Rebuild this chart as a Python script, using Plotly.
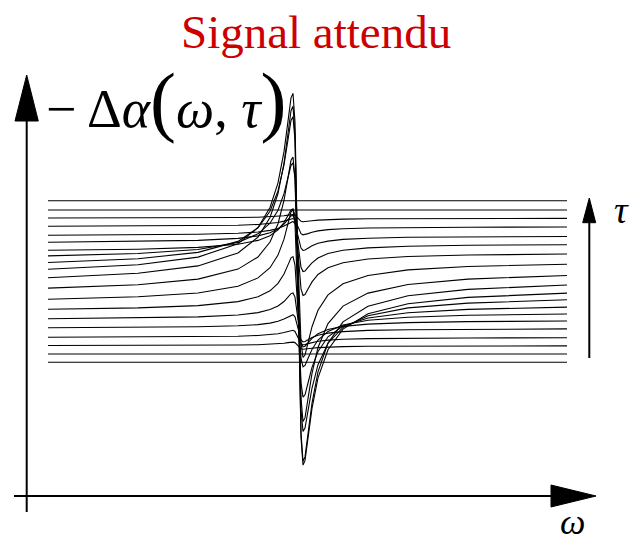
import plotly.graph_objects as go

# omega offset from the resonance (arbitrary units) shared by every trace
omega = [-250, -160, -100, -60, -40, -28, -20, -14, -10, -7, -5, -3, 0,
         3, 5, 7, 10, 14, 20, 30, 45, 70, 110, 170, 269]

# -Delta alpha (offset per delay tau), from top (largest tau) to bottom
curve_01 = [294.3] * 25
curve_02 = [285.0] * 25
curve_03 = [277.0, 277.0, 277.2, 277.5, 277.8, 278.2, 278.7, 279.3, 279.9, 280.3, 280.4, 279.9, 276.8,
            273.7, 273.2, 273.3, 273.7, 274.3, 274.9, 275.5, 275.9, 276.2, 276.4, 276.6, 276.6]
curve_04 = [268.7, 268.9, 269.2, 269.8, 270.5, 271.4, 272.5, 273.9, 275.2, 276.3, 276.5, 275.2, 268.3,
            261.4, 260.2, 260.4, 261.4, 262.7, 264.1, 265.4, 266.3, 267.0, 267.5, 267.8, 268.0]
curve_05 = [259.7, 260.1, 260.7, 261.7, 263.0, 264.6, 266.5, 269.0, 271.4, 273.2, 273.6, 271.3, 259.1,
            246.9, 244.6, 245.0, 246.8, 249.2, 251.7, 253.9, 255.6, 256.8, 257.7, 258.2, 258.5]
curve_06 = [252.7, 253.4, 254.6, 256.6, 259.1, 262.2, 266.0, 270.8, 275.4, 279.0, 279.6, 275.3, 251.5,
            227.7, 223.4, 224.0, 227.6, 232.2, 237.0, 241.5, 244.7, 247.1, 248.7, 249.7, 250.3]
curve_07 = [244.7, 245.8, 247.6, 250.7, 254.6, 259.3, 265.1, 272.5, 279.6, 285.1, 286.1, 279.4, 242.8,
            206.2, 199.5, 200.5, 206.0, 213.1, 220.5, 227.3, 232.3, 236.0, 238.5, 240.0, 241.0]
curve_08 = [239.1, 241.5, 245.5, 252.6, 261.2, 271.8, 284.8, 301.3, 317.5, 329.7, 332.1, 316.9, 234.8,
            152.7, 137.5, 139.9, 152.1, 168.3, 184.8, 200.1, 211.3, 219.5, 225.1, 228.5, 230.8]
curve_09 = [232.5, 236.3, 242.6, 253.6, 267.1, 283.7, 304.1, 330.0, 355.3, 374.5, 378.2, 354.5, 225.8,
            97.1, 73.4, 77.1, 96.3, 121.6, 147.5, 171.4, 188.9, 201.9, 210.5, 215.9, 219.5]
curve_10 = [225.7, 230.3, 237.9, 251.2, 267.5, 287.5, 312.1, 343.4, 373.9, 397.1, 401.6, 372.9, 217.6,
            62.3, 33.6, 38.1, 61.3, 91.8, 123.1, 151.9, 173.1, 188.7, 199.2, 205.6, 210.0]
curve_11 = [217.2, 221.7, 229.1, 242.1, 257.9, 277.5, 301.5, 332.0, 361.7, 384.3, 388.7, 360.7, 209.3,
            57.9, 29.9, 34.3, 56.9, 86.6, 117.1, 145.3, 165.9, 181.2, 191.3, 197.6, 201.9]
curve_12 = [206.9, 210.3, 215.9, 225.9, 238.0, 253.0, 271.3, 294.6, 317.4, 334.7, 338.0, 316.6, 200.8,
            85.0, 63.6, 66.9, 84.2, 107.0, 130.3, 151.8, 167.6, 179.3, 187.1, 191.9, 195.2]
curve_13 = [195.8, 198.2, 202.0, 208.8, 217.1, 227.3, 239.9, 255.8, 271.4, 283.2, 285.5, 270.9, 191.7,
            112.5, 97.9, 100.2, 112.0, 127.6, 143.5, 158.2, 169.0, 177.0, 182.3, 185.6, 187.9]
curve_14 = [185.7, 187.1, 189.4, 193.4, 198.2, 204.2, 211.6, 221.0, 230.1, 237.1, 238.4, 229.8, 183.3,
            136.8, 128.2, 129.5, 136.5, 145.6, 155.0, 163.6, 170.0, 174.7, 177.8, 179.7, 181.0]
curve_15 = [176.3, 177.0, 178.1, 180.0, 182.4, 185.4, 189.0, 193.5, 198.0, 201.4, 202.1, 197.9, 175.1,
            152.3, 148.1, 148.8, 152.2, 156.7, 161.2, 165.5, 168.6, 170.9, 172.4, 173.4, 174.0]
curve_16 = [167.3, 167.6, 168.2, 169.2, 170.4, 171.9, 173.7, 176.0, 178.2, 179.9, 180.3, 178.2, 166.7,
            155.2, 153.1, 153.5, 155.2, 157.4, 159.7, 161.9, 163.4, 164.6, 165.3, 165.8, 166.1]
curve_17 = [157.8, 158.0, 158.3, 158.8, 159.5, 160.3, 161.2, 162.5, 163.7, 164.6, 164.7, 163.6, 157.5,
            151.4, 150.3, 150.4, 151.4, 152.5, 153.8, 154.9, 155.8, 156.4, 156.8, 157.0, 157.2]
curve_18 = [149.5, 149.5, 149.7, 150.0, 150.3, 150.7, 151.2, 151.8, 152.4, 152.8, 152.9, 152.4, 149.3,
            146.2, 145.7, 145.8, 146.2, 146.8, 147.4, 148.0, 148.4, 148.7, 148.9, 149.1, 149.1]
curve_19 = [141.0] * 25
curve_20 = [132.7] * 25

curves = [curve_01, curve_02, curve_03, curve_04, curve_05, curve_06, curve_07,
          curve_08, curve_09, curve_10, curve_11, curve_12, curve_13, curve_14,
          curve_15, curve_16, curve_17, curve_18, curve_19, curve_20]

fig = go.Figure()
for c in curves:
    fig.add_trace(go.Scatter(x=omega, y=c, mode="lines",
                             line=dict(color="black", width=1.1),
                             hoverinfo="skip", showlegend=False))

# axes drawn as arrows (data coordinates)
LK = dict(color="black", width=2)
FILL = dict(fillcolor="black", line=dict(color="black", width=1))
shapes = [
    # vertical axis
    dict(type="line", xref="x", yref="y", x0=-271.3, y0=-17, x1=-271.3, y1=376, line=LK),
    dict(type="path", xref="x", yref="y", path="M -283,374 L -259.7,374 L -271.3,420 Z", **FILL),
    # horizontal (omega) axis
    dict(type="line", xref="x", yref="y", x0=-284, y0=-1, x1=255, y1=-1, line=LK),
    dict(type="path", xref="x", yref="y", path="M 253,10 L 253,-12 L 298,-1 Z", **FILL),
    # tau arrow
    dict(type="line", xref="x", yref="y", x0=291.3, y0=137, x1=291.3, y1=274, line=LK),
    dict(type="path", xref="x", yref="y", path="M 284.7,272.3 L 297.7,272.3 L 291.3,297 Z", **FILL),
]

SERIF = "Liberation Serif, Times New Roman, serif"
W, H = 631, 544
annotations = [
    dict(text="Signal attendu", xref="paper", yref="paper", x=316 / W, y=1 - 32 / H,
         xanchor="center", yanchor="middle", showarrow=False,
         font=dict(family=SERIF, size=47, color="#CC0000")),
    dict(text="− Δ<i>α</i><span style='font-size:78px'>(</span><i>ω</i>, <i>τ</i><span style='font-size:78px'>)</span>",
         xref="paper", yref="paper", x=44 / W, y=1 - 100 / H,
         xanchor="left", yanchor="middle", showarrow=False,
         font=dict(family=SERIF, size=54, color="black")),
    dict(text="<i>τ</i>", xref="paper", yref="paper", x=621 / W, y=1 - 210 / H,
         xanchor="center", yanchor="middle", showarrow=False,
         font=dict(family=SERIF, size=38, color="black")),
    dict(text="<i>ω</i>", xref="paper", yref="paper", x=572 / W, y=1 - 522 / H,
         xanchor="center", yanchor="middle", showarrow=False,
         font=dict(family=SERIF, size=36, color="black")),
]

fig.update_layout(
    width=W, height=H,
    margin=dict(l=0, r=0, t=0, b=0),
    paper_bgcolor="white", plot_bgcolor="white",
    xaxis=dict(range=[-298, 333], visible=False, fixedrange=True),
    yaxis=dict(range=[-49, 495], visible=False, fixedrange=True),
    shapes=shapes, annotations=annotations, showlegend=False,
)

fig.write_html("out.html")
